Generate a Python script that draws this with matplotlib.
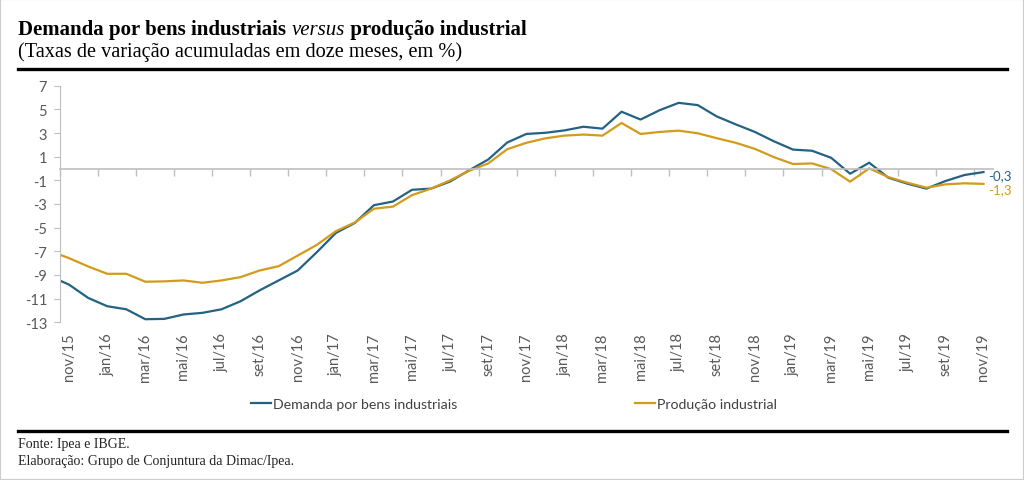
import numpy as np
import matplotlib
matplotlib.use('Agg')
import matplotlib.pyplot as plt
from matplotlib.lines import Line2D
from matplotlib.patches import Rectangle
from matplotlib.ticker import FixedLocator

# meses (out/15 aparece só como prolongamento da linha antes do eixo)
meses = ['out/15', 'nov/15', 'dez/15',
         'jan/16', 'fev/16', 'mar/16', 'abr/16', 'mai/16', 'jun/16',
         'jul/16', 'ago/16', 'set/16', 'out/16', 'nov/16', 'dez/16',
         'jan/17', 'fev/17', 'mar/17', 'abr/17', 'mai/17', 'jun/17',
         'jul/17', 'ago/17', 'set/17', 'out/17', 'nov/17', 'dez/17',
         'jan/18', 'fev/18', 'mar/18', 'abr/18', 'mai/18', 'jun/18',
         'jul/18', 'ago/18', 'set/18', 'out/18', 'nov/18', 'dez/18',
         'jan/19', 'fev/19', 'mar/19', 'abr/19', 'mai/19', 'jun/19',
         'jul/19', 'ago/19', 'set/19', 'out/19', 'nov/19']

demanda = [-9.1, -9.82, -10.94, -11.64, -11.9, -12.74, -12.71, -12.34, -12.2,
           -11.9, -11.22, -10.3, -9.46, -8.62, -7.08, -5.45, -4.6, -3.1, -2.79,
           -1.8, -1.7, -1.1, -0.15, 0.76, 2.2, 2.92, 3.02, 3.22, 3.53, 3.37,
           4.8, 4.14, 4.93, 5.55, 5.36, 4.4, 3.73, 3.09, 2.3, 1.6, 1.5, 0.91,
           -0.44, 0.49, -0.77, -1.28, -1.7, -1.06, -0.55, -0.3]

producao = [-6.98, -7.58, -8.28, -8.9, -8.9, -9.57, -9.54, -9.46, -9.66,
            -9.46, -9.18, -8.62, -8.26, -7.36, -6.46, -5.3, -4.56, -3.4, -3.22,
            -2.25, -1.7, -1.0, -0.2, 0.43, 1.63, 2.17, 2.55, 2.78, 2.87, 2.78,
            3.85, 2.92, 3.09, 3.2, 2.98, 2.56, 2.17, 1.66, 0.96, 0.38, 0.43,
            -0.05, -1.11, 0.01, -0.72, -1.2, -1.62, -1.34, -1.25, -1.3]

azul = '#236283'
ouro = '#D29B1B'
cinza = '#BFBFBF'
texto = '#595959'

W, H = 1024, 481
fig = plt.figure(figsize=(W / 100, H / 100), dpi=100)

def fx(px):
    return px / W

def fy(py):
    return 1 - py / H

ax = fig.add_axes([fx(59.6), fy(323.3), fx(993) - fx(59.6), fy(86.7) - fy(323.3)])
x = np.arange(len(meses))
l1, = ax.plot(x, demanda, color=azul, lw=1.6, label='Demanda por bens industriais')
l2, = ax.plot(x, producao, color=ouro, lw=1.6, label='Produção industrial')

ax.set_xlim(0.5, len(meses) - 0.5)
ax.set_ylim(-13, 7)
ax.set_yticks(np.arange(-13, 8, 2))
ax.set_yticklabels([str(v) for v in range(-13, 8, 2)], fontfamily='Lato', fontsize=10.5, color=texto)
ax.tick_params(axis='y', direction='out', length=4, color=cinza, pad=5)

# eixo horizontal cruzando no zero, marcas entre categorias, rótulos embaixo
ax.spines['bottom'].set_position(('data', 0))
ax.spines['bottom'].set_color(cinza)
ax.spines['bottom'].set_linewidth(1.2)
ax.set_xticks(x[1::2])
ax.set_xticklabels(meses[1::2], rotation=90, fontfamily='Lato', fontsize=10.5, color=texto)
ax.xaxis.set_minor_locator(FixedLocator(np.arange(0.5, len(meses) - 1, 2)))
ax.tick_params(axis='x', which='major', length=0, pad=118)
ax.tick_params(axis='x', which='minor', direction='out', length=5, width=1, color=cinza)

for s in ['top', 'right']:
    ax.spines[s].set_visible(False)
ax.spines['left'].set_color(cinza)

# rótulos finais
ax.annotate(f'{demanda[-1]:.1f}'.replace('.', ','), xy=(x[-1], demanda[-1]), xytext=(3, -2),
            textcoords='offset points', va='center', ha='left', color=azul,
            fontfamily='Lato', fontsize=9.5, annotation_clip=False)
ax.annotate(f'{producao[-1]:.1f}'.replace('.', ','), xy=(x[-1], producao[-1]), xytext=(3, -4),
            textcoords='offset points', va='center', ha='left', color=ouro,
            fontfamily='Lato', fontsize=9.5, annotation_clip=False)

leg = fig.legend(handles=[l1, l2], loc='center', bbox_to_anchor=(fx(514), fy(405)), ncol=2,
                 frameon=False, handlelength=1.4, handletextpad=0.2, columnspacing=12.5,
                 prop={'family': 'Lato', 'size': 10.2})
for t in leg.get_texts():
    t.set_color('#404040')

# título
serif = 'Liberation Serif'
renderer = fig.canvas.get_renderer()
xpos = fx(18)
for txt, wt, st in [('Demanda por bens industriais ', 'bold', 'normal'),
                    ('versus', 'normal', 'italic'),
                    (' produção industrial', 'bold', 'normal')]:
    t = fig.text(xpos, fy(34.7), txt, fontfamily=serif, fontsize=15, fontweight=wt,
                 fontstyle=st, va='baseline', ha='left', color='black')
    bb = t.get_window_extent(renderer=renderer)
    xpos = fig.transFigure.inverted().transform((bb.x1, bb.y0))[0]

fig.text(fx(18), fy(57.5), '(Taxas de variação acumuladas em doze meses, em %)', fontfamily=serif,
         fontsize=14.6, va='baseline', ha='left', color='black')

fig.add_artist(Line2D([fx(18), fx(1007)], [fy(70)] * 2, color='black', lw=2.4))
fig.add_artist(Line2D([fx(18), fx(1007)], [fy(432)] * 2, color='black', lw=2.4))

fig.text(fx(18), fy(448), 'Fonte: Ipea e IBGE.', fontfamily=serif, fontsize=10,
         va='baseline', ha='left', color='#222222')
fig.text(fx(18), fy(465), 'Elaboração: Grupo de Conjuntura da Dimac/Ipea.', fontfamily=serif,
         fontsize=10, va='baseline', ha='left', color='#222222')

fig.add_artist(Rectangle((0, 0), 1, 1, transform=fig.transFigure, fill=False,
                         edgecolor='#CCCCCC', lw=1.5))

fig.savefig('out.png', dpi=100)
